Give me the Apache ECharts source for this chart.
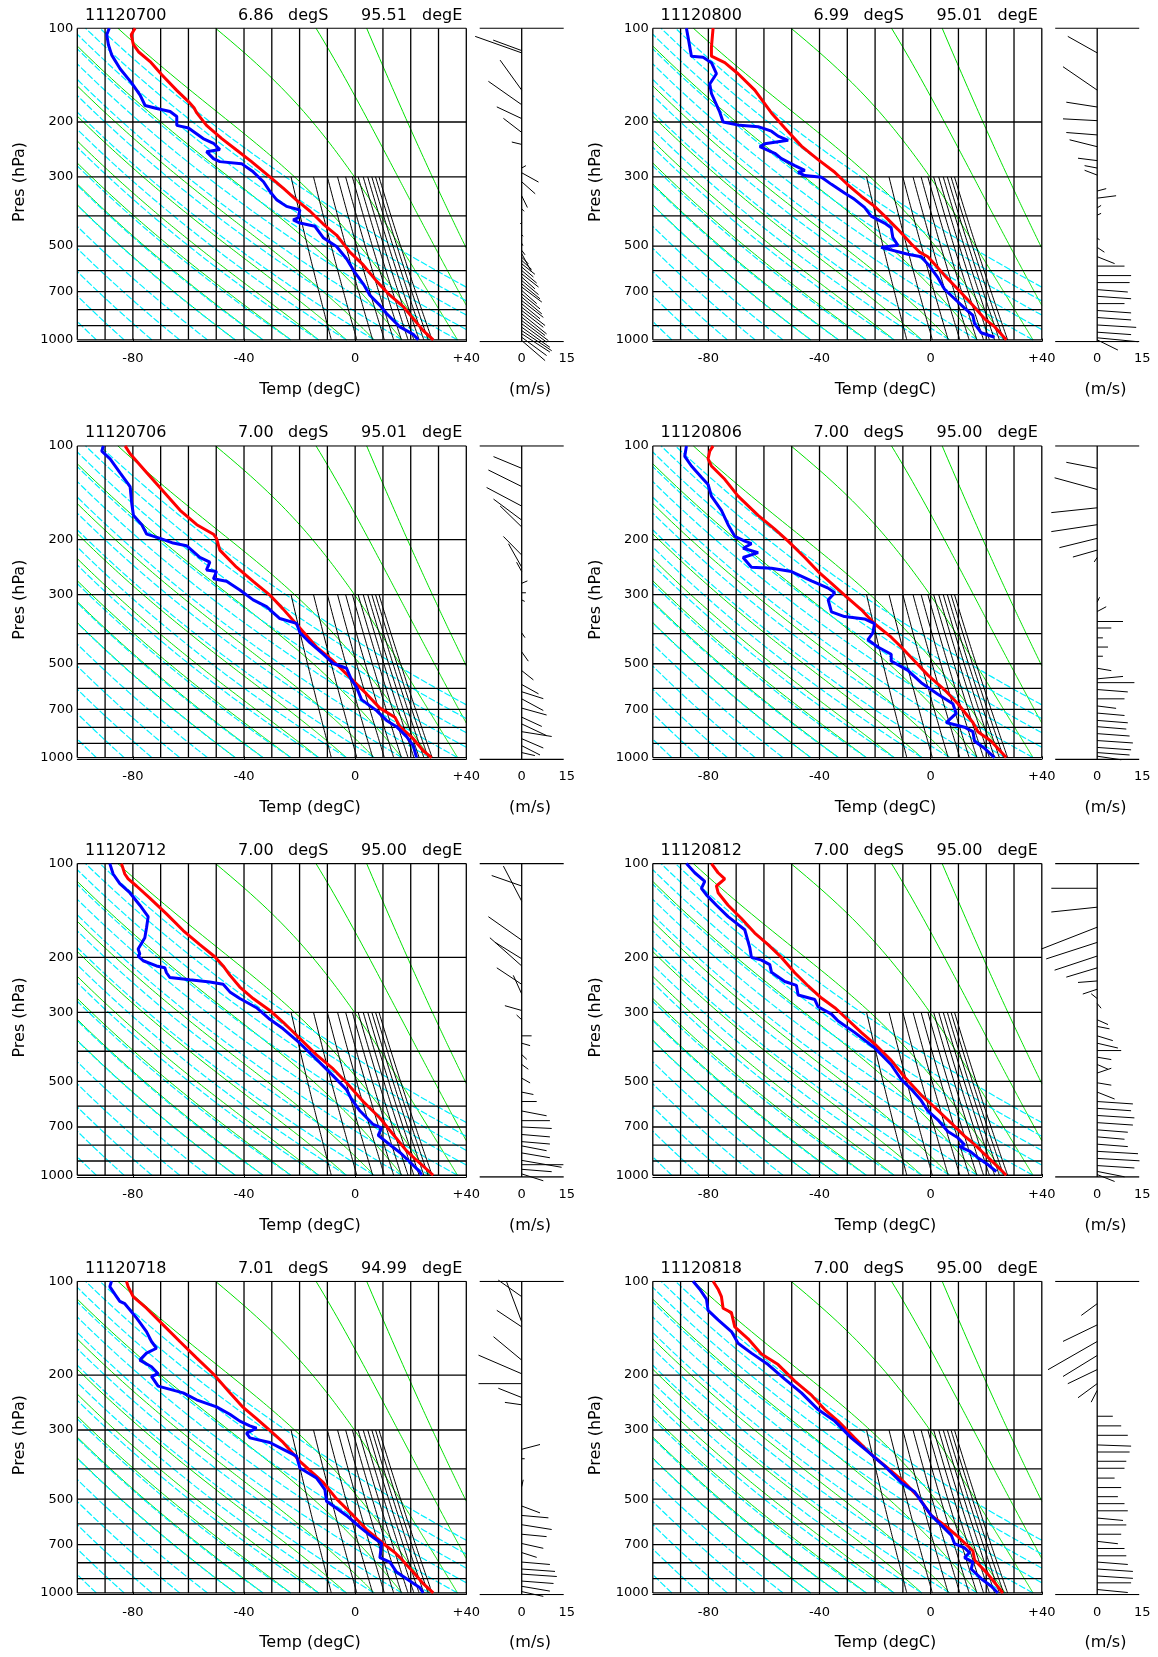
<!DOCTYPE html>
<html><head><meta charset="utf-8">
<script src="https://cdn.jsdelivr.net/npm/echarts@6/dist/echarts.min.js"></script>
<style>html,body{margin:0;padding:0;background:#fff}#c{width:1158px;height:1657px}</style>
</head><body><div id="c"></div>
<script>
// ---------------- panel metadata ----------------
const stamps = ['11120700','11120706','11120712','11120718','11120800','11120806','11120812','11120818'];
const lats   = ['6.86','7.00','7.00','7.01','6.99','7.00','7.00','7.00'];
const lons   = ['95.51','95.01','95.00','94.99','95.01','95.00','95.00','95.00'];

// ---------------- axis / reference values ----------------
const presTickLabels = [100,200,300,500,700,1000];
const tempTickLabels = [-80,-40,0,40];
const windTickLabels = [0,15];
const isobars   = [100,200,300,400,500,600,700,800,900,1000];
const isotherms = [-100,-90,-80,-70,-60,-50,-40,-30,-20,-10,0,10,20,30,40];
const dryThetaK = [180,190,200,210,220,230,240,250,260,270,280,290,300,310,320,330,340,350];
const moistThetaWK = [230,240,250,260,270,280,290,300,310,320,330];
const mixRatioGkg = [2,4,6,8,10,12,14,16,18,20,22,24];

// ---------------- soundings: [pressure hPa, temperature degC] ----------------
const T_11120700 = [[100,-79.2],[105,-80.6],[113,-79.8],[119,-78.0],[128,-73.8],[141,-69.6],[158,-64.3],[172,-60.0],[180,-58.0],[187,-57.0],[205,-53.5],[226,-48.0],[246,-42.7],[268,-37.3],[300,-30.7],[326,-25.9],[357,-21.0],[386,-16.3],[425,-11.5],[461,-6.7],[523,-1.9],[575,2.9],[648,7.7],[719,12.5],[782,17.3],[855,20.9],[934,24.5],[1000,28.1]];
const Td_11120700 = [[100,-88.5],[105,-89.4],[113,-88.8],[122,-87.6],[135,-84.6],[150,-80.4],[164,-77.4],[177,-75.6],[181,-71.4],[185,-66.6],[192,-64.2],[205,-64.2],[209,-60.0],[226,-54.7],[234,-51.0],[245,-48.7],[249,-53.5],[262,-51.0],[268,-48.7],[272,-40.9],[289,-36.7],[311,-33.0],[334,-30.7],[355,-28.3],[373,-24.7],[383,-19.9],[406,-20.5],[412,-22.3],[422,-19.9],[432,-14.5],[470,-11.5],[502,-6.7],[549,-3.1],[610,0.0],[661,2.9],[719,5.3],[775,8.9],[823,11.3],[876,14.3],[909,16.1],[934,18.5],[960,20.9],[1000,22.7]];

const T_11120706 = [[100,-82.8],[106,-81.0],[122,-75.0],[140,-69.0],[161,-63.0],[179,-57.0],[192,-51.0],[198,-49.9],[216,-48.7],[245,-42.7],[272,-36.7],[301,-30.7],[334,-25.9],[384,-19.9],[442,-13.9],[490,-7.9],[553,-1.9],[625,4.1],[694,8.9],[742,14.3],[796,16.1],[870,20.9],[951,24.5],[1000,27.5]];
const Td_11120706 = [[100,-90.6],[104,-91.2],[110,-88.2],[122,-84.6],[135,-81.0],[153,-80.4],[167,-79.8],[179,-76.8],[192,-75.0],[198,-70.2],[205,-65.5],[209,-60.7],[228,-55.9],[236,-52.3],[250,-53.5],[253,-49.9],[267,-51.0],[272,-46.3],[290,-41.5],[312,-36.7],[328,-31.9],[358,-27.1],[371,-21.1],[397,-19.9],[428,-16.3],[466,-11.5],[499,-7.9],[517,-3.1],[563,-1.3],[595,0.5],[652,2.3],[707,7.7],[760,11.3],[796,14.9],[857,18.5],[916,20.9],[1000,22.1]];

const T_11120712 = [[100,-84.1],[108,-82.9],[112,-81.7],[118,-78.7],[129,-73.9],[145,-67.9],[164,-61.9],[182,-55.9],[199,-50.5],[213,-47.5],[228,-45.1],[249,-41.5],[271,-36.7],[296,-30.7],[323,-25.9],[364,-19.9],[411,-13.9],[456,-7.9],[505,-3.1],[580,2.9],[655,8.9],[740,13.7],[835,18.5],[895,22.1],[1000,28.1]];
const Td_11120712 = [[100,-88.3],[108,-87.1],[116,-84.7],[124,-81.1],[136,-77.5],[148,-74.5],[161,-75.1],[173,-75.7],[188,-78.1],[195,-77.5],[198,-78.1],[205,-76.3],[213,-71.5],[216,-68.5],[224,-67.9],[232,-66.7],[236,-59.5],[240,-52.3],[244,-47.5],[258,-45.1],[271,-41.5],[290,-35.5],[316,-30.7],[339,-25.9],[377,-19.9],[425,-13.9],[480,-7.9],[532,-3.1],[570,-1.3],[621,1.7],[687,6.5],[705,9.5],[745,8.3],[798,12.5],[845,16.1],[907,19.7],[975,23.3],[1000,23.9]];

const T_11120718 = [[100,-82.3],[104,-81.7],[112,-79.9],[122,-75.1],[138,-69.1],[156,-63.1],[176,-57.1],[198,-51.1],[228,-45.1],[254,-40.3],[276,-35.5],[301,-30.7],[329,-25.9],[378,-19.9],[442,-11.5],[499,-6.7],[564,-0.7],[626,4.1],[694,10.1],[742,14.3],[770,16.1],[857,20.9],[934,24.5],[1000,28.1]];
const Td_11120718 = [[100,-87.7],[104,-88.3],[110,-86.5],[116,-84.7],[118,-82.9],[131,-78.7],[145,-75.1],[156,-73.3],[164,-71.5],[170,-75.1],[179,-77.5],[188,-73.3],[198,-70.9],[202,-73.3],[217,-70.9],[228,-61.9],[240,-57.1],[253,-49.9],[267,-45.1],[281,-41.5],[291,-37.9],[296,-35.5],[307,-39.1],[318,-37.9],[329,-30.7],[346,-25.9],[364,-21.1],[397,-19.9],[428,-13.9],[450,-12.1],[466,-10.9],[508,-10.3],[535,-6.7],[564,-3.1],[615,1.7],[652,5.3],[694,9.5],[770,8.9],[796,12.5],[857,14.9],[916,19.7],[962,23.3],[1000,24.5]];

const T_11120800 = [[100,-78.3],[115,-78.9],[123,-78.9],[129,-74.1],[140,-69.3],[158,-63.3],[187,-57.3],[209,-52.5],[239,-46.5],[264,-40.5],[290,-34.5],[318,-29.8],[346,-25.0],[373,-20.2],[400,-16.6],[442,-11.8],[492,-7.0],[510,-5.2],[523,-4.0],[541,-1.0],[621,5.0],[688,9.8],[765,14.6],[856,19.4],[907,23.0],[1000,27.2]];
const Td_11120800 = [[100,-87.9],[107,-87.3],[123,-86.1],[124,-81.9],[129,-78.9],[140,-77.1],[151,-79.5],[162,-78.9],[186,-75.9],[200,-74.7],[205,-68.7],[207,-62.1],[214,-57.3],[222,-54.9],[229,-51.3],[235,-59.7],[240,-61.5],[252,-56.1],[262,-53.7],[276,-48.9],[286,-45.3],[290,-47.7],[297,-45.3],[301,-39.3],[317,-35.7],[338,-31.0],[354,-27.4],[376,-23.8],[401,-21.4],[422,-16.6],[437,-14.2],[470,-13.6],[497,-11.8],[505,-17.8],[531,-8.2],[541,-3.4],[580,-0.4],[632,2.6],[688,5.0],[738,8.6],[791,12.2],[835,15.2],[887,15.8],[949,18.2],[981,23.0]];

const T_11120806 = [[100,-78.3],[104,-79.5],[110,-80.1],[116,-78.9],[128,-74.1],[145,-69.3],[167,-62.1],[185,-56.1],[202,-51.3],[228,-45.3],[253,-40.5],[276,-35.7],[301,-31.0],[335,-25.0],[372,-20.2],[411,-14.2],[442,-10.6],[490,-5.8],[544,-1.0],[606,5.0],[672,9.8],[772,15.2],[826,17.0],[886,21.8],[1000,27.2]];
const Td_11120806 = [[100,-87.9],[108,-88.5],[116,-86.1],[126,-82.5],[133,-80.1],[145,-78.9],[161,-75.3],[179,-72.9],[195,-70.5],[202,-66.9],[206,-64.5],[213,-67.5],[220,-62.1],[228,-67.5],[245,-64.5],[247,-57.3],[253,-50.1],[271,-42.9],[286,-36.9],[296,-34.5],[312,-36.9],[341,-35.7],[353,-31.0],[359,-23.8],[372,-20.2],[398,-20.8],[419,-22.6],[442,-19.0],[466,-14.2],[490,-14.2],[525,-8.2],[575,-3.4],[626,2.6],[672,8.0],[722,9.2],[772,5.6],[799,12.2],[826,15.2],[886,15.8],[934,19.4],[1000,23.0]];

const T_11120812 = [[100,-78.9],[107,-76.5],[112,-74.1],[118,-77.1],[124,-76.5],[136,-72.9],[150,-68.1],[167,-63.3],[182,-58.5],[200,-53.7],[224,-48.9],[247,-44.1],[270,-39.3],[290,-34.5],[317,-29.8],[348,-25.0],[379,-20.2],[428,-14.2],[484,-9.4],[553,-3.4],[605,1.4],[680,7.4],[749,12.2],[796,15.8],[856,19.4],[918,23.0],[1000,27.2]];
const Td_11120812 = [[100,-87.9],[107,-84.9],[114,-81.3],[120,-82.5],[126,-80.7],[136,-77.1],[148,-72.9],[163,-66.9],[186,-65.1],[200,-64.5],[204,-60.9],[211,-57.9],[223,-57.3],[239,-52.5],[246,-48.3],[264,-47.7],[273,-41.7],[288,-40.5],[304,-35.7],[320,-33.3],[348,-27.4],[390,-20.2],[442,-14.2],[493,-10.6],[529,-7.0],[576,-3.4],[622,-1.0],[664,2.6],[724,6.2],[758,9.8],[799,12.2],[810,10.4],[836,14.0],[878,17.0],[924,20.6],[974,23.6]];

const T_11120818 = [[100,-78.3],[106,-76.5],[112,-75.3],[122,-74.7],[126,-71.7],[140,-70.5],[153,-65.7],[171,-60.9],[185,-54.9],[209,-48.9],[232,-42.9],[258,-38.1],[281,-33.3],[318,-27.4],[359,-21.4],[398,-15.4],[442,-9.4],[490,-4.6],[564,0.2],[606,5.0],[660,9.8],[732,15.2],[784,15.8],[870,20.6],[1000,26.0]];
const Td_11120818 = [[100,-85.5],[106,-83.1],[114,-80.7],[124,-80.1],[133,-76.5],[145,-71.7],[158,-69.3],[170,-64.5],[185,-58.5],[206,-52.5],[228,-46.5],[258,-40.5],[281,-34.5],[318,-28.6],[352,-22.6],[391,-16.6],[442,-10.6],[473,-5.8],[508,-3.4],[564,0.2],[606,3.8],[652,7.4],[694,8.6],[717,12.2],[742,14.0],[770,12.2],[796,15.2],[838,14.6],[900,18.2],[952,21.8],[1000,24.2]];

// ---------------- winds: [pressure hPa, u m/s, v m/s] ----------------
const W_11120700 = [[118,-9.5,3.5],[120,-15.5,5.5],[158,-7.2,10.0],[176,-11.1,7.8],[195,-8.3,3.9],[216,-6.1,4.7],[236,-3.3,0.8],[281,1.4,0.8],[291,5.6,-3.1],[311,4.5,-4.0],[345,1.9,-3.9],[380,0.8,-0.8],[420,-0.5,-0.5],[460,0.5,-0.5],[490,0.4,-0.8],
  [516,1.1,-1.5],[529,3.3,-6.1],[543,2.2,-2.2],[556,3.3,-3.0],[570,4.4,-3.5],[584,3.9,-3.3],[599,5.0,-4.2],[614,5.6,-4.4],[629,4.4,-3.9],[645,5.6,-4.7],[661,6.1,-5.0],[677,6.7,-5.0],[694,5.0,-4.4],[712,6.1,-5.0],[729,6.7,-5.6],[748,7.2,-5.6],[766,6.1,-5.0],[786,7.8,-6.1],[805,7.2,-5.6],[825,8.3,-6.7],[846,7.8,-6.1],[867,8.9,-6.7],[888,8.3,-6.1],[911,9.4,-6.7],[934,10.0,-6.7],[956,9.4,-6.1],[981,8.3,-6.1],[1005,7.8,-6.7]];
const W_11120706 = [[118,-9.4,3.9],[135,-11.1,5.5],[156,-11.7,6.2],[173,-9.4,7.0],[182,-7.2,7.0],[224,-6.1,6.2],[245,-4.4,7.8],[253,-1.7,3.1],[276,1.9,0.8],[296,1.4,0],[312,1.0,-0.5],[398,1.1,-1.6],[458,2.2,-3.1],[526,3.9,-3.1],[583,5.6,-3.1],[615,7.2,-2.3],[648,7.2,-3.9],[694,8.3,-2.3],[742,6.7,-3.1],[780,8.3,-3.9],[826,10.0,-1.6],[870,7.2,-3.1],[916,6.1,-3.1],[964,4.4,-1.0]];
const W_11120712 = [[118,-10.0,3.5],[132,-6.1,11.7],[176,-11.1,7.8],[202,-8.9,5.5],[213,-10.6,9.4],[244,-8.3,5.5],[262,-2.8,6.2],[296,-5.6,1.6],[317,-1.7,1.6],[357,3.3,0],[377,2.8,-0.8],[410,1.7,-1.6],[441,2.2,-1.6],[488,2.8,-1.6],[541,3.9,-0.8],[580,5.0,0],[622,8.3,-1.6],[668,9.4,0],[700,10.0,-0.5],[740,9.4,-0.8],[780,9.4,-0.8],[805,8.3,-1.6],[848,9.4,-1.6],[896,13.3,-2.3],[925,13.9,0],[957,10.0,-0.8],[990,7.2,-2.3]];
const W_11120718 = [[112,-7.8,5.5],[135,-5.0,13.3],[140,-8.3,5.5],[179,-9.4,7.8],[198,-14.4,6.2],[213,-14.4,0],[236,-7.8,3.1],[249,-5.6,0.8],[346,6.1,1.6],[371,1.0,0],[456,0.5,2.3],[526,6.1,-2.3],[564,8.9,-0.8],[604,10.0,-1.6],[648,8.3,-0.8],[694,7.2,-1.6],[742,5.0,-1.6],[796,9.4,-0.8],[838,11.1,-0.8],[870,11.7,-0.8],[916,10.6,-0.8],[952,9.4,-1.6],[990,7.2,-1.6]];
const W_11120800 = [[120,-9.8,5.5],[158,-11.4,7.8],[179,-10.3,1.6],[198,-11.4,0.6],[220,-10.3,0.8],[240,-9.2,2.3],[266,-6.4,0.8],[281,-4.2,0.8],[296,-4.2,1.6],[333,3.0,0.8],[351,6.3,0.8],[377,1.3,0.8],[398,1.3,0.6],[472,0.8,-0.5],[505,2.4,-1.6],[541,5.8,-2.3],[580,9.1,0],[622,11.3,0],[655,10.8,0],[690,10.2,-0.8],[725,11.3,-0.8],[765,9.1,0],[805,11.3,-0.8],[848,11.3,-0.8],[896,13.0,-0.8],[945,11.3,-0.8],[985,13.6,-1.3],[1000,6.9,-3.4]];
const W_11120806 = [[118,-10.3,2.0],[138,-14.2,3.9],[158,-15.3,-1.6],[179,-15.3,-2.3],[198,-12.6,-3.1],[216,-8.1,-2.3],[228,-1.0,-1.5],[317,0.8,1.6],[340,3.0,1.6],[366,8.6,0],[384,4.7,0],[413,1.9,0],[442,3.6,0],[473,1.9,0],[517,4.7,-0.8],[559,8.6,0.8],[575,12.4,0],[605,10.2,-0.8],[648,9.1,0],[683,6.3,-0.8],[720,9.1,-0.8],[760,10.2,-0.8],[796,9.7,-0.8],[838,10.8,-0.8],[882,11.9,-0.8],[928,11.3,-0.8],[964,10.8,-0.8],[990,8.0,-1.2]];
const W_11120812 = [[120,-15.3,0],[138,-15.3,-1.6],[160,-18.7,-7.3],[179,-17.0,-5.5],[198,-14.2,-4.7],[216,-10.3,-3.1],[238,-6.4,-0.5],[253,-4.8,-1.6],[271,-2.0,1.6],[281,1.3,-1.6],[317,3.6,-1.6],[333,4.1,-0.8],[357,5.2,-1.6],[377,6.9,-1.6],[398,8.0,0],[418,4.7,-0.8],[441,3.6,-1.6],[470,4.7,1.6],[505,4.7,-0.8],[541,5.8,-2.3],[580,11.9,-0.8],[610,11.3,-0.8],[643,12.4,-0.8],[678,11.9,-0.8],[715,10.2,-0.8],[753,9.1,-0.8],[795,10.2,-0.8],[838,13.6,-0.8],[883,14.1,-0.8],[931,12.4,-0.8],[972,9.1,-1.8],[995,5.8,-2.3]];
const W_11120818 = [[118,-5.3,-3.9],[138,-11.4,-5.5],[156,-16.4,-9.4],[173,-11.4,-7.0],[192,-9.8,-4.7],[213,-6.4,-4.7],[224,-2.0,-3.9],[271,5.2,0],[291,8.0,0],[312,10.2,0],[335,11.3,-0.4],[353,10.8,0],[378,9.7,0],[398,9.1,0],[428,5.8,0],[459,8.0,0],[491,6.9,0],[517,9.1,0],[545,10.2,0],[575,8.6,-0.8],[605,9.7,0],[648,8.0,0],[683,6.9,-0.8],[720,9.1,0],[760,9.7,0],[796,10.2,-0.8],[838,11.9,-0.8],[882,11.9,-0.8],[928,11.3,0],[975,10.2,-1.0]];

const tempSeries = [T_11120700,T_11120706,T_11120712,T_11120718,T_11120800,T_11120806,T_11120812,T_11120818];
const dewSeries  = [Td_11120700,Td_11120706,Td_11120712,Td_11120718,Td_11120800,Td_11120806,Td_11120812,Td_11120818];
const windSeries = [W_11120700,W_11120706,W_11120712,W_11120718,W_11120800,W_11120806,W_11120812,W_11120818];

// ---------------- thermodynamic reference lines ----------------
const TMIN=-100, TMAX=40, PTOP=100, PBOT=1000, PAXIS=1013;
function clipT(pts){
  const out=[]; const inside=a=>a[0]>=TMIN && a[0]<=TMAX;
  const interp=(a,b)=>{ const bT=(a[0]>TMAX||b[0]>TMAX)?TMAX:TMIN; const t=(bT-a[0])/(b[0]-a[0]);
    return [bT, Math.exp(Math.log(a[1])+t*(Math.log(b[1])-Math.log(a[1])))]; };
  for(let i=0;i<pts.length;i++){
    const a=pts[i], inA=inside(a);
    if(i>0){ const pr=pts[i-1], inP=inside(pr); if(inA!==inP) out.push(interp(pr,a)); }
    if(inA) out.push(a);
  }
  return out;
}
function esat(Tc){ return 6.112*Math.exp(17.67*Tc/(Tc+243.5)); }
function thetaE(Tk,p){ const e=esat(Tk-273.15); if(e>=0.9*p) return Infinity;
  const r=0.622*e/(p-e); return Tk*Math.pow(1000/p,0.2857)*Math.exp(2.5e6*r/(1004*Tk)); }
function dryLine(thK){ const pts=[]; for(let p=PBOT;p>=PTOP;p-=5) pts.push([thK*Math.pow(p/1000,0.2857)-273.15,p]); return clipT(pts); }
function moistLine(thwK){
  const te=thetaE(thwK,1000); const pts=[];
  for(let p=PBOT;p>=PTOP;p-=5){
    let lo=120, hi=340;
    for(let k=0;k<50;k++){ const m=(lo+hi)/2; if(thetaE(m,p)>te) hi=m; else lo=m; }
    pts.push([(lo+hi)/2-273.15,p]);
  }
  return clipT(pts);
}
function mixLine(w){ const pts=[]; const r=w/1000; for(let p=PBOT;p>=300;p-=10){ const e=r*p/(0.622+r); const L=Math.log(e/6.112); pts.push([243.5*L/(17.67-L),p]); } return clipT(pts); }

const dryLines = dryThetaK.map(dryLine).filter(l=>l.length>1);
const moistLines = moistThetaWK.map(moistLine).filter(l=>l.length>1);
const mixLines = mixRatioGkg.map(mixLine);
const gridLines = isotherms.map(t=>[[t,PTOP],[t,PBOT]]).concat(isobars.map(p=>[[TMIN,p],[TMAX,p]]));

// ---------------- layout ----------------
const COLX=575.5, ROWY=417.7;
const FONT='DejaVu Sans';
const grids=[], xAxes=[], yAxes=[], series=[], graphics=[];
const txt=(x,y,s,size,align,rot)=>({type:'text', x:x, y:y, rotation:rot||0, silent:true,
  style:{text:s, fill:'#000', fontSize:size, fontFamily:FONT, align:align||'left', verticalAlign:'middle'}});

for(let i=0;i<8;i++){
  const col=Math.floor(i/4), row=i%4, ox=col*COLX, oy=row*ROWY;
  const gi=grids.length;
  grids.push({left:77.3+ox, top:28.2+oy, width:389, height:313.4});
  grids.push({left:476.7+ox, top:28.2+oy, width:90, height:313.4});
  const lab={color:'#000', fontFamily:FONT, fontSize:13};
  xAxes.push({gridIndex:gi, type:'value', min:TMIN, max:TMAX, interval:10,
    axisLine:{show:true, onZero:false, lineStyle:{color:'#000', width:1}},
    axisTick:{show:true, inside:true, length:3, customValues:tempTickLabels, lineStyle:{color:'#000'}},
    axisLabel:Object.assign({customValues:tempTickLabels, margin:11, formatter:v=>v>0?'+'+v:String(v)},lab),
    splitLine:{show:false}});
  yAxes.push({gridIndex:gi, type:'log', logBase:10, min:100, max:PAXIS, inverse:true,
    axisLine:{show:false}, axisTick:{show:false}, splitLine:{show:false},
    axisLabel:Object.assign({customValues:presTickLabels, margin:4, formatter:v=>String(Math.round(v))},lab)});
  xAxes.push({gridIndex:gi+1, type:'value', min:-15, max:15, interval:15,
    axisLine:{show:false}, axisTick:{show:false}, splitLine:{show:false},
    axisLabel:Object.assign({customValues:windTickLabels, margin:11},lab)});
  yAxes.push({gridIndex:gi+1, type:'log', logBase:10, min:100, max:PAXIS, inverse:true, show:false});

  const L=(data,color,width,type,z)=>({type:'lines', coordinateSystem:'cartesian2d', xAxisIndex:gi, yAxisIndex:gi,
    polyline:true, silent:true, clip:true, z:z, animation:false,
    lineStyle:{color:color, width:width, type:type||'solid', opacity:1}, data:data.map(c=>({coords:c}))});
  series.push(L(moistLines,'#00e000',1,'solid',1));
  series.push(L(dryLines,'#00f0ff',1.2,[7,2],2));
  series.push(L(mixLines,'#000',1,'solid',3));
  series.push(L(gridLines,'#000',1.3,'solid',3));
  series.push({type:'line', xAxisIndex:gi, yAxisIndex:gi, showSymbol:false, symbol:'none', z:5, animation:false, silent:true,
    lineStyle:{color:'#ff0000', width:3}, data:tempSeries[i].map(d=>[d[1],d[0]])});
  series.push({type:'line', xAxisIndex:gi, yAxisIndex:gi, showSymbol:false, symbol:'none', z:6, animation:false, silent:true,
    lineStyle:{color:'#0000ff', width:3}, data:dewSeries[i].map(d=>[d[1],d[0]])});
  // wind panel frame
  series.push({type:'lines', coordinateSystem:'cartesian2d', xAxisIndex:gi+1, yAxisIndex:gi+1, polyline:true, silent:true, animation:false,
    lineStyle:{color:'#000', width:1.3, opacity:1},
    data:[{coords:[[-14,PTOP],[14,PTOP]]},{coords:[[-14,PAXIS],[14,PAXIS]]},{coords:[[0,PTOP],[0,PAXIS]]}]});
  // wind sticks
  series.push({type:'custom', xAxisIndex:gi+1, yAxisIndex:gi+1, clip:false, silent:true, animation:false,
    data:windSeries[i], encode:{x:1, y:0},
    renderItem:(params,api)=>{
      const p=api.value(0), u=api.value(1), v=api.value(2);
      const b=api.coord([0,p]); const tip=api.coord([u,p]); const k=api.coord([1,p])[0]-b[0];
      return {type:'line', shape:{x1:b[0], y1:b[1], x2:tip[0], y2:b[1]-v*k}, style:{stroke:'#000', lineWidth:1}};
    }});

  graphics.push(txt(85+ox,15.5+oy,stamps[i],16));
  graphics.push(txt(238+ox,15.5+oy,lats[i],16));
  graphics.push(txt(288+ox,15.5+oy,'degS',16));
  graphics.push(txt(361+ox,15.5+oy,lons[i],16));
  graphics.push(txt(422+ox,15.5+oy,'degE',16));
  graphics.push(txt(310+ox,390+oy,'Temp (degC)',16,'center'));
  graphics.push(txt(530+ox,390+oy,'(m/s)',16,'center'));
  graphics.push(txt(20+ox,182+oy,'Pres (hPa)',16,'center',Math.PI/2));
}

const chart=echarts.init(document.getElementById('c'),null,{renderer:'canvas'});
chart.setOption({animation:false, backgroundColor:'#fff', grid:grids, xAxis:xAxes, yAxis:yAxes, series:series, graphic:graphics});
</script></body></html>
